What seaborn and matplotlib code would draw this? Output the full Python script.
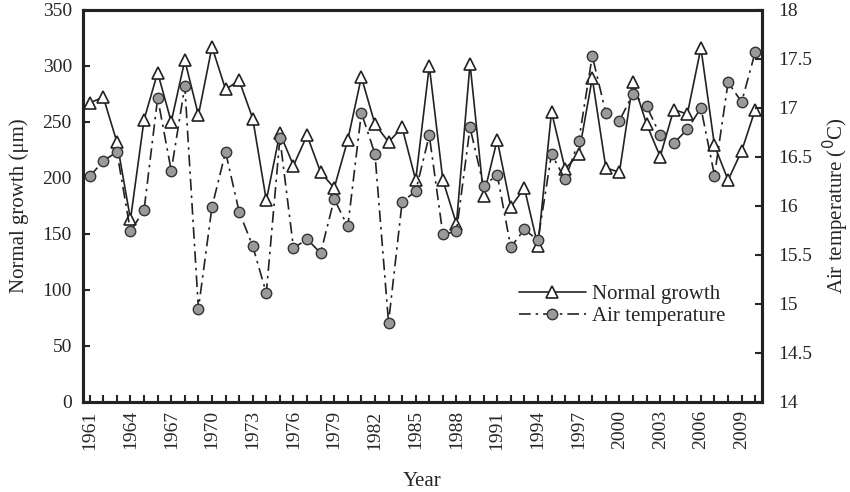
import matplotlib
matplotlib.use("Agg")
import matplotlib.pyplot as plt
import seaborn as sns
import pandas as pd
import numpy as np

years = list(range(1961, 2011))
growth = [267, 272, 232, 163, 252, 294, 250, 305, 256, 317,
          279, 287, 253, 180, 240, 211, 238, 205, 191, 234,
          290, 248, 232, 245, 198, 300, 198, 159, 302, 184,
          234, 174, 191, 139, 259, 208, 221, 289, 209, 205,
          286, 248, 219, 261, 257, 316, 229, 198, 224, 261]
temperature = [16.30, 16.46, 16.55, 15.74, 15.96, 17.10, 16.36, 17.22, 14.95, 15.99,
               16.55, 15.94, 15.59, 15.11, 16.69, 15.57, 15.66, 15.52, 16.07, 15.79,
               16.95, 16.53, 14.81, 16.04, 16.15, 16.72, 15.71, 15.74, 16.80, 16.20,
               16.32, 15.58, 15.76, 15.65, 16.53, 16.27, 16.66, 17.53, 16.95, 16.87,
               17.14, 17.02, 16.72, 16.64, 16.78, 17.00, 16.31, 17.26, 17.06, 17.57]
year_ticks = list(range(1961, 2011, 3))

df = pd.DataFrame({"Year": years, "Growth": growth, "Temp": temperature})

sns.set_style("white")
plt.rcParams['font.family'] = ['Liberation Serif', 'DejaVu Serif']
plt.rcParams['font.size'] = 14

fig = plt.figure(figsize=(8.5, 4.92), dpi=100)
ax = fig.add_axes([0.0976, 0.183, 0.7989, 0.797])
ax2 = ax.twinx()

sns.lineplot(data=df, x="Year", y="Growth", ax=ax, color="#222222", lw=1.2,
             marker="^", markersize=8, markerfacecolor="white",
             markeredgecolor="#222222", markeredgewidth=1.2,
             label="Normal growth", legend=False, zorder=3)
sns.lineplot(data=df, x="Year", y="Temp", ax=ax2, color="#222222", lw=1.2,
             marker="o", markersize=7.5, markerfacecolor="#9a9a9a",
             markeredgecolor="#333333", markeredgewidth=1.0,
             label="Air temperature", legend=False, zorder=2)
ax2.lines[0].set_dashes([7, 3, 1.5, 3])

ax.set_xlim(1960.5, 2010.5)
ax.set_ylim(0, 350)
ax.set_yticks(np.arange(0, 351, 50))
ax2.set_ylim(14, 18)
ax2.set_yticks(np.arange(14, 18.01, 0.5))
ax2.set_yticklabels([f"{v:g}" for v in np.arange(14, 18.01, 0.5)])
ax.set_xticks(years, minor=True)
ax.set_xticks(year_ticks)
ax.set_xticklabels([str(y) for y in year_ticks], rotation=90)

ax.tick_params(axis="x", which="both", direction="in", length=5, width=1.5, bottom=True, labelsize=14, pad=6)
ax.tick_params(axis="y", direction="in", length=5, width=1.5, left=True, labelsize=14, pad=8)
ax2.tick_params(axis="y", direction="in", length=5, width=1.5, right=True, labelsize=14, pad=12)

for a in (ax, ax2):
    for s in a.spines.values():
        s.set_linewidth(2.2)
        s.set_color("#222222")

ax.set_xlabel("Year", fontsize=15, labelpad=16)
ax.set_ylabel("Normal growth (\u03bcm)", fontsize=15, labelpad=10)
ax2.set_ylabel("Air temperature ($^0$C)", fontsize=15, labelpad=6)

h1, l1 = ax.get_legend_handles_labels()
h2, l2 = ax2.get_legend_handles_labels()
ax2.legend(h1 + h2, l1 + l2, loc="upper left", bbox_to_anchor=(0.63, 0.32),
           frameon=False, fontsize=15, handlelength=3.2, handletextpad=0.3,
           labelspacing=0.1, borderaxespad=0)

fig.savefig("out.png", dpi=100)
